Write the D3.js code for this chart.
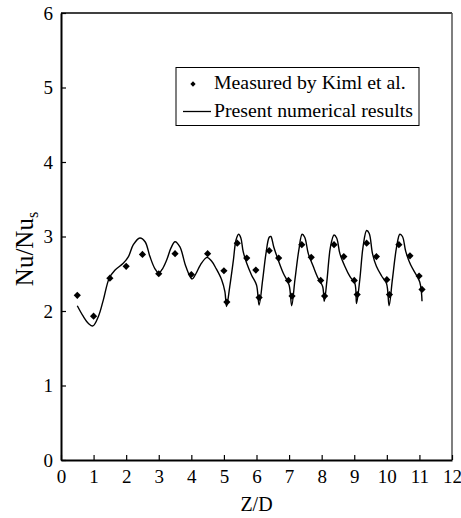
<!DOCTYPE html>
<html>
<head>
<meta charset="utf-8">
<script src="https://cdn.jsdelivr.net/npm/d3@7"></script>
<style>
  body { margin: 0; background: #fff; }
  svg text { font-family: "Liberation Serif", "Times New Roman", serif; fill: #000; }
</style>
</head>
<body>
<div id="chart"></div>
<script>
// Plot frame (pixels in the 461x518 window).
const width = 461;
const height = 518;
const plot = { left: 61, right: 452, top: 13, bottom: 460 };
const serif = "'Liberation Serif', 'Times New Roman', serif";

// Measured points (Kiml et al.)
const measuredZ = [0.5, 1.0, 1.5, 2.0, 2.5, 3.0, 3.5, 4.0, 4.5, 5.0,
  5.09, 5.41, 5.70, 5.98, 6.08, 6.39, 6.68, 6.98, 7.09, 7.39,
  7.68, 7.97, 8.09, 8.38, 8.68, 9.0, 9.09, 9.38, 9.68, 10.0,
  10.08, 10.37, 10.71, 10.99, 11.08];
const measuredNu = [2.21, 1.93, 2.44, 2.60, 2.76, 2.50, 2.77, 2.49, 2.77, 2.54,
  2.12, 2.91, 2.71, 2.55, 2.18, 2.81, 2.71, 2.41, 2.20, 2.89,
  2.72, 2.41, 2.20, 2.89, 2.73, 2.41, 2.22, 2.91, 2.73, 2.42,
  2.22, 2.89, 2.74, 2.47, 2.29];

// Present numerical results (line)
const numericZ = [0.5, 0.68, 0.85, 0.98, 1.15, 1.30, 1.48, 1.66, 1.91, 2.07,
  2.22, 2.42, 2.58, 2.73, 2.88, 3.0, 3.12, 3.24, 3.38, 3.50,
  3.65, 3.83, 4.02, 4.14, 4.28, 4.48, 4.62, 4.76, 4.93, 5.03,
  5.08, 5.18, 5.29, 5.37, 5.45, 5.52, 5.59, 5.70, 5.85, 6.0,
  6.08, 6.19, 6.29, 6.39, 6.44, 6.53, 6.67, 6.82, 7.0, 7.08,
  7.18, 7.30, 7.40, 7.48, 7.59, 7.74, 7.89, 8.03, 8.08, 8.16,
  8.27, 8.38, 8.46, 8.56, 8.71, 8.87, 9.02, 9.07, 9.17, 9.27,
  9.38, 9.46, 9.56, 9.68, 9.84, 9.99, 10.07, 10.17, 10.30, 10.40,
  10.48, 10.58, 10.73, 10.91, 11.01, 11.06, 11.08];
const numericNu = [2.07, 1.93, 1.83, 1.80, 1.93, 2.15, 2.44, 2.55, 2.64, 2.73,
  2.89, 2.98, 2.93, 2.73, 2.57, 2.51, 2.57, 2.68, 2.85, 2.93,
  2.86, 2.60, 2.43, 2.50, 2.62, 2.72, 2.67, 2.57, 2.42, 2.26,
  2.06, 2.33, 2.68, 2.95, 3.03, 2.98, 2.80, 2.64, 2.48, 2.35,
  2.08, 2.42, 2.77, 2.99, 3.00, 2.86, 2.68, 2.51, 2.35, 2.07,
  2.42, 2.82, 3.03, 2.99, 2.77, 2.60, 2.44, 2.33, 2.13, 2.40,
  2.86, 3.02, 2.98, 2.77, 2.60, 2.46, 2.37, 2.10, 2.42, 2.86,
  3.08, 3.04, 2.77, 2.60, 2.47, 2.37, 2.07, 2.42, 2.86, 3.03,
  3.00, 2.80, 2.62, 2.48, 2.39, 2.26, 2.13];

const xTicks = [0, 1, 2, 3, 4, 5, 6, 7, 8, 9, 10, 11, 12];
const yTicks = [0, 1, 2, 3, 4, 5, 6];
const legendLabels = ["Measured by Kiml et al.", "Present numerical results"];

const svg = d3.select("#chart").append("svg")
  .attr("width", width)
  .attr("height", height);

const x = d3.scaleLinear().domain([0, 12]).range([plot.left, plot.right]);
const y = d3.scaleLinear().domain([0, 6]).range([plot.bottom, plot.top]);

// Frame: top and right borders
svg.append("line")
  .attr("x1", plot.left).attr("x2", plot.right)
  .attr("y1", plot.top).attr("y2", plot.top)
  .attr("stroke", "#000").attr("stroke-width", 1.3);
svg.append("line")
  .attr("x1", plot.right).attr("x2", plot.right)
  .attr("y1", plot.top).attr("y2", plot.bottom)
  .attr("stroke", "#555").attr("stroke-width", 1.5);

// Axes with inward ticks
const xAxis = svg.append("g")
  .attr("transform", `translate(0,${plot.bottom})`)
  .call(d3.axisBottom(x).tickValues(xTicks).tickFormat(d3.format("d"))
    .tickSizeInner(-5).tickSizeOuter(0).tickPadding(10));
const yAxis = svg.append("g")
  .attr("transform", `translate(${plot.left},0)`)
  .call(d3.axisLeft(y).tickValues(yTicks).tickFormat(d3.format("d"))
    .tickSizeInner(-5).tickSizeOuter(0).tickPadding(8));

[xAxis, yAxis].forEach(a => {
  a.attr("font-family", serif).attr("font-size", 19);
  a.select(".domain").attr("stroke-width", 2);
  a.selectAll(".tick line").attr("stroke-width", 1.2);
  a.selectAll(".tick text").attr("fill", "#000");
});

// Axis titles
svg.append("text")
  .attr("x", (plot.left + plot.right) / 2)
  .attr("y", 511)
  .attr("text-anchor", "middle")
  .attr("font-size", 20)
  .text("Z/D");

const yTitle = svg.append("text")
  .attr("transform", `translate(33,249) rotate(-90)`)
  .attr("text-anchor", "middle")
  .attr("font-size", 25);
yTitle.append("tspan").text("Nu/Nu");
yTitle.append("tspan").attr("dy", 5).attr("font-size", 16).text("s");

// Numerical line
const numeric = numericZ.map((z, i) => [z, numericNu[i]]);
const line = d3.line()
  .x(d => x(d[0]))
  .y(d => y(d[1]))
  .curve(d3.curveCatmullRom.alpha(0.5));

svg.append("path")
  .datum(numeric)
  .attr("fill", "none")
  .attr("stroke", "#000")
  .attr("stroke-width", 1.4)
  .attr("d", line);

// Measured diamonds
const measured = measuredZ.map((z, i) => [z, measuredNu[i]]);
const diamond = d3.symbol().type(d3.symbolSquare).size(26);
svg.append("g")
  .selectAll("path")
  .data(measured)
  .join("path")
  .attr("transform", d => `translate(${x(d[0])},${y(d[1])}) rotate(45)`)
  .attr("d", diamond)
  .attr("fill", "#000");

// Legend
const legend = svg.append("g");
legend.append("rect")
  .attr("x", 176).attr("y", 67.5)
  .attr("width", 243).attr("height", 58)
  .attr("fill", "#fff")
  .attr("stroke", "#000")
  .attr("stroke-width", 1);
legend.append("path")
  .attr("transform", "translate(193,84) rotate(45)")
  .attr("d", d3.symbol().type(d3.symbolSquare).size(14))
  .attr("fill", "#000");
legend.append("line")
  .attr("x1", 183).attr("x2", 211)
  .attr("y1", 111.5).attr("y2", 111.5)
  .attr("stroke", "#000").attr("stroke-width", 1.3);
legend.selectAll("text")
  .data(legendLabels)
  .join("text")
  .attr("x", 214)
  .attr("y", (d, i) => 89 + i * 27.5)
  .attr("font-size", 19.8)
  .text(d => d);
</script>
</body>
</html>
